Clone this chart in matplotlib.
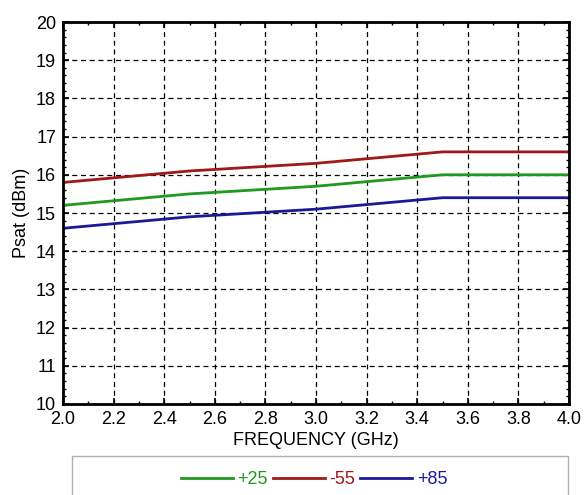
import matplotlib.pyplot as plt
from matplotlib.patches import Rectangle
from matplotlib.ticker import MultipleLocator

freq = [2.0, 2.5, 3.0, 3.5, 4.0]
psat_25 = [15.2, 15.5, 15.7, 16.0, 16.0]
psat_m55 = [15.8, 16.1, 16.3, 16.6, 16.6]
psat_85 = [14.6, 14.9, 15.1, 15.4, 15.4]

xticks = [2.0, 2.2, 2.4, 2.6, 2.8, 3.0, 3.2, 3.4, 3.6, 3.8, 4.0]
yticks = list(range(10, 21))

plt.rcParams['font.family'] = ['Liberation Sans', 'DejaVu Sans']

fig = plt.figure(figsize=(5.87, 4.95), dpi=100)
ax = fig.add_axes([63 / 587, 1 - 404 / 495, 506 / 587, 382 / 495])

ax.plot(freq, psat_25, color='#1f9a1f', lw=2, label='+25')
ax.plot(freq, psat_m55, color='#a01818', lw=2, label='-55')
ax.plot(freq, psat_85, color='#1a1a99', lw=2, label='+85')

ax.set_xlim(2.0, 4.0)
ax.set_ylim(10, 20)
ax.set_xticks(xticks)
ax.set_xticklabels([f'{t:.1f}' for t in xticks])
ax.set_yticks(yticks)
ax.xaxis.set_minor_locator(MultipleLocator(0.1))
ax.yaxis.set_minor_locator(MultipleLocator(0.2))
ax.tick_params(which='both', direction='in', top=True, right=True, labelsize=13)
ax.tick_params(which='major', length=4, width=1.2, pad=5)
ax.tick_params(which='minor', length=2.5, width=1)
ax.grid(True, which='major', color='black', ls=(0, (4, 3)), lw=0.9)
for s in ax.spines.values():
    s.set_linewidth(2)

ax.set_xlabel('FREQUENCY (GHz)', fontsize=13, labelpad=3)
ax.set_ylabel('Psat (dBm)', fontsize=13, labelpad=4)

# legend box below the plot
fig.patches.append(Rectangle((72 / 587, -0.05), 496 / 587, 0.05 + 1 - 456 / 495,
                             transform=fig.transFigure, fill=False,
                             edgecolor='#b0b0b0', lw=1))
fig.legend(loc='center', bbox_to_anchor=(314 / 587, 1 - 480 / 495), ncol=3,
           frameon=False, fontsize=13, handlelength=2.9, handletextpad=0.25,
           columnspacing=0.25, labelcolor='linecolor')

fig.savefig('out.png', dpi=100)
